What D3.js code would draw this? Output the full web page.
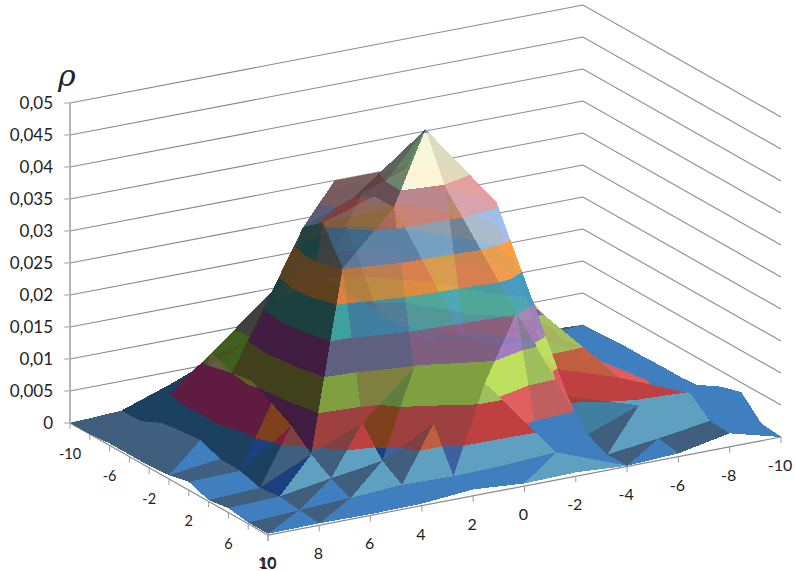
<!DOCTYPE html>
<html><head><meta charset="utf-8">
<script src="https://cdn.jsdelivr.net/npm/d3@7"></script>
<style>html,body{margin:0;background:#fff}svg{display:block}text{font-family:Lato,"Open Sans",sans-serif;fill:#222}</style>
</head><body><svg id="c" width="795" height="571"></svg>
<script>
// ---- data -------------------------------------------------------------
const aTicks = [10,8,6,4,2,0,-2,-4,-6,-8,-10];      // right-hand floor axis
const bValues = [10,8,6,4,2,0,-2,-4,-6,-8,-10];     // left-hand floor axis
const bLabels = [-10,-6,-2,2,6,10];
const zTicks = [0,0.005,0.01,0.015,0.02,0.025,0.03,0.035,0.04,0.045,0.05];
const zLabels = ["0","0,005","0,01","0,015","0,02","0,025","0,03","0,035","0,04","0,045","0,05"];
// rho x 1000; rows follow bValues, columns follow aTicks
const rhoMilli = [
 [ .2, .3, .2, .3,1.0, .4, .6, .1, .5,2.1, .0],
 [ .2, .6,1.0,1.5,1.3,1.5,2.0, .1,1.1,2.3, .4],
 [ .7,1.0,2.3,3.5,7.8,12.6,3.5,1.5,4.5,4.9,3.5],
 [ .2, .6,4.3,7.7,14.7,17.5,20.3,5.7,7.1,3.6,2.6],
 [1.3,1.5,7.0,30.1,38.1,39.7,35.8,8.4,8.0,3.3, .8],
 [ .6,1.6,8.8,35.5,38.0,47.0,36.0,17.0,6.5,2.5, .5],
 [ .3,2.8,10.5,33.0,36.2,39.0,32.0,20.0,8.0,2.0, .5],
 [ .3,2.5,10.0,23.0,37.0,37.0,28.0,14.0,6.0,2.5, .4],
 [ .3,2.0,11.5,15.0,28.0,33.0,22.0,9.0,4.0,4.0, .4],
 [ .0, .5,6.0,9.3,20.0,25.0,15.0,5.0,1.5,2.0, .2],
 [ .0, .4,3.2,6.5,13.0,15.0,8.0,2.0, .5, .5, .0]
];
const bandLimits = [0,5,10,15,20,25,30,35,40,46.5,60];
const bandColors = ["#4C81BD","#C0504D","#9BBB59","#806EA2","#4BACC6","#F79646","#7DA0C3","#C8827D","#D8E4C4","#8C82AA"];

// ---- projection through scales ---------------------------------------
const svg = d3.select("#c");
const u = d3.scaleLinear().domain([10,-10]).range([0,1]);
const v = d3.scaleLinear().domain([10,-10]).range([0,1]);
const zPx = d3.scaleLinear().domain([0,0.05]).range([0,320]);
const O = {x:268,y:535}, U = {x:513,y:-98}, V = {x:-198,y:-112};
function proj(a,b,z){
  const p=u(a), q=v(b);
  return [O.x+U.x*p+V.x*q, O.y+U.y*p+V.y*q-zPx(z)];
}
const line = d3.line();

// ---- walls -----------------------------------------------------------
const defs = svg.append("defs");
defs.append("filter").attr("id","soft").attr("x","-5%").attr("y","-5%").attr("width","110%").attr("height","110%")
  .append("feGaussianBlur").attr("stdDeviation",0.45);
const walls = svg.append("g").attr("filter","url(#soft)");
walls.selectAll("path.g").data(zTicks).join("path").attr("class","g")
  .attr("fill","none").attr("stroke","#8a8a8a").attr("stroke-width",1.1)
  .attr("d",z=>line([proj(10,-10,z),proj(-10,-10,z),proj(-10,10,z)]));
walls.append("path").attr("d",line([proj(10,-10,0),proj(10,-10,0.05)])).attr("stroke","#b4b4b4").attr("stroke-width",2).attr("fill","none");
walls.selectAll("path.zt").data(zTicks).join("path").attr("class","zt").attr("stroke","#b4b4b4").attr("stroke-width",1.2)
  .attr("d",z=>{const p=proj(10,-10,z);return line([[p[0]-6,p[1]],p]);});
walls.append("path").attr("fill","none").attr("stroke","#8a8a8a").attr("stroke-width",1.2)
  .attr("d",line([proj(10,-10,0),proj(10,10,0),proj(-10,10,0)]));
walls.selectAll("path.at").data(aTicks).join("path").attr("class","at").attr("stroke","#9a9a9a")
  .attr("d",a=>{const p=proj(a,10,0);return line([p,[p[0],p[1]+6]]);});
walls.selectAll("path.bt").data(bValues).join("path").attr("class","bt").attr("stroke","#9a9a9a")
  .attr("d",b=>{const p=proj(10,b,0);return line([p,[p[0],p[1]+6]]);});

// ---- surface ---------------------------------------------------------
function clipBand(tri,lo,hi){
  const cut=(poly,keep,lim)=>{
    const out=[];
    poly.forEach((p,k)=>{
      const n=poly[(k+1)%poly.length], kp=keep(p[2]), kn=keep(n[2]);
      if(kp) out.push(p);
      if(kp!==kn){
        const t=(lim-p[2])/(n[2]-p[2]);
        out.push([p[0]+t*(n[0]-p[0]),p[1]+t*(n[1]-p[1]),lim]);
      }
    });
    return out;
  };
  let r=cut(tri,z=>z>=lo,lo);
  if(r.length) r=cut(r,z=>z<=hi,hi);
  return r;
}
function shade(gi,gj){
  const d=gj*0.8-gi;
  if(d<-0.1) return 0.72-0.35*Math.tanh(-d/12);
  const x=-gi, t=Math.sign(x)*(x/4)*(x/4);
  return 1+0.25*Math.tanh(t);
}
function bandFill(col,k,b,gi,gj){
  if(b===0){
    if(k>=0.9&&gj>=1.3&&gi>-1) return "#5F9FBF";   // floor facets tilted to the front
    k=Math.min(k,1.05);
  }
  if(b===4||b===5) k=Math.min(k,1);
  if(b===8&&k>0.9) k=2.15-k;
  const c=d3.rgb(col);
  const q=x=>Math.max(0,Math.min(255,Math.round(x*k/32)*32-1));
  const out=d3.rgb(q(c.r),q(c.g),q(c.b));
  if(b===1&&k<0.6) out.b+=32;               // shaded red leans to plum
  return out.formatHex();
}
const faces=[];
function addTri(t){
  const [A,B,C]=t;
  const det=(B[0]-A[0])*(C[1]-A[1])-(C[0]-A[0])*(B[1]-A[1]);
  const gi=((B[2]-A[2])*(C[1]-A[1])-(C[2]-A[2])*(B[1]-A[1]))/det;
  const gj=((B[0]-A[0])*(C[2]-A[2])-(C[0]-A[0])*(B[2]-A[2]))/det;
  const depth=d3.mean(t,p=>19.8*p[0]+51.3*p[1]);
  const k=shade(gi,gj);
  bandColors.forEach((col,b)=>{
    const poly=clipBand(t,bandLimits[b],bandLimits[b+1]);
    if(poly.length>2) faces.push({poly,fill:bandFill(col,k,b,gi,gj),depth});
  });
}
for(let j=0;j<bValues.length-1;j++)for(let i=0;i<aTicks.length-1;i++){
  const P=(a,b)=>[a,b,rhoMilli[b][a]];
  const p00=P(i,j),p10=P(i+1,j),p11=P(i+1,j+1),p01=P(i,j+1);
  if(p00[2]+p11[2]>=p10[2]+p01[2]){addTri([p00,p10,p11]);addTri([p00,p11,p01]);}
  else{addTri([p00,p10,p01]);addTri([p10,p11,p01]);}
}
faces.sort((a,b)=>d3.descending(a.depth,b.depth));
const fracVal=(arr,t)=>{const k=Math.min(arr.length-2,Math.floor(t));return arr[k]+(arr[k+1]-arr[k])*(t-k);};
const surf=svg.append("g").attr("filter","url(#soft)");
// first pass opaque, second pass translucent: the far side only shows faintly
[1,0.86].forEach(alpha=>{
  surf.append("g").selectAll("path").data(faces).join("path")
    .attr("shape-rendering","crispEdges")
    .attr("fill",d=>d.fill).attr("fill-opacity",alpha)
    .attr("d",d=>line(d.poly.map(p=>proj(fracVal(aTicks,p[0]),fracVal(bValues,p[1]),p[2]/1000)))+"Z");
});

// ---- labels ----------------------------------------------------------
const lab = svg.append("g");
lab.selectAll("text.z").data(zTicks).join("text").attr("class","z").attr("text-anchor","end")
  .attr("font-size",17).attr("x",d=>proj(10,-10,d)[0]-17).attr("y",d=>proj(10,-10,d)[1]+6)
  .text((d,k)=>zLabels[k]);
lab.selectAll("text.a").data(aTicks).join("text").attr("class","a").attr("text-anchor","middle")
  .attr("font-size",16).attr("x",d=>proj(d,10,0)[0]-1).attr("y",d=>proj(d,10,0)[1]+(d===10?33:34))
  .text(d=>d);
lab.selectAll("text.b").data(bLabels).join("text").attr("class","b").attr("text-anchor","middle")
  .attr("font-size",14.5).attr("x",d=>proj(10,d,0)[0]).attr("y",d=>proj(10,d,0)[1]+(d===10?34:36))
  .text(d=>d);
lab.append("text").attr("x",58).attr("y",86).attr("font-size",30).attr("font-style","italic")
  .style("font-family","'DejaVu Serif','Liberation Serif',serif").text("ρ");
</script></body></html>
